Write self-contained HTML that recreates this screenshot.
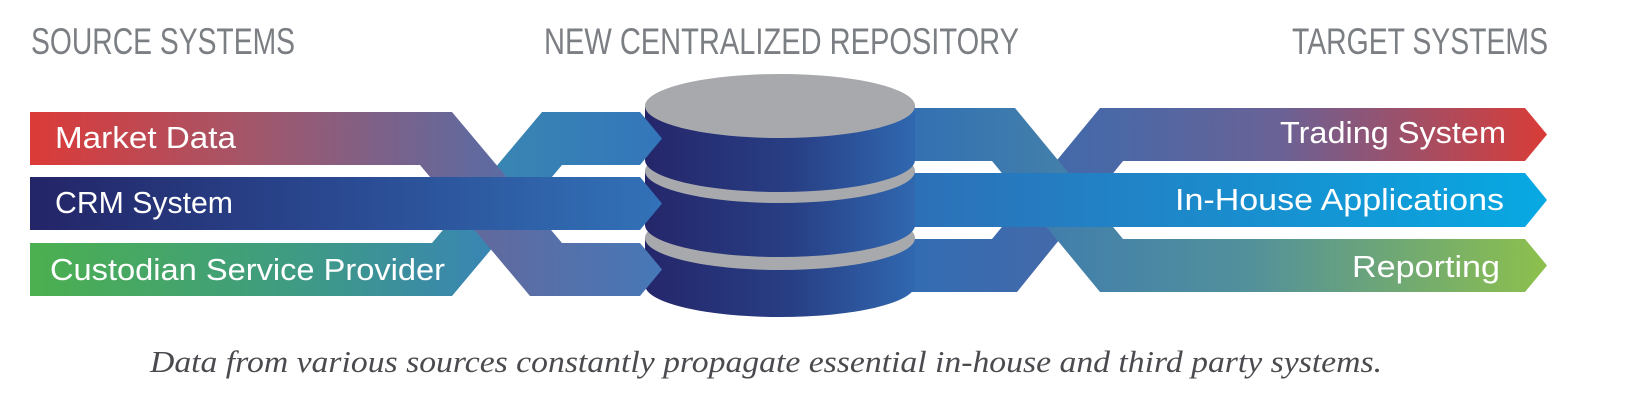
<!DOCTYPE html>
<html><head><meta charset="utf-8"><style>html,body{margin:0;padding:0;background:#fff}svg{display:block}</style></head>
<body>
<svg width="1626" height="402" viewBox="0 0 1626 402" xmlns="http://www.w3.org/2000/svg">
<defs>
<linearGradient id="gRed" gradientUnits="userSpaceOnUse" x1="30" y1="0" x2="662" y2="0">
<stop offset="0" stop-color="#dc3a38"/><stop offset="0.35" stop-color="#a3566a"/><stop offset="0.7" stop-color="#62699d"/><stop offset="1" stop-color="#4678b8"/></linearGradient>
<linearGradient id="gGreen" gradientUnits="userSpaceOnUse" x1="30" y1="0" x2="662" y2="0">
<stop offset="0" stop-color="#4cb04f"/><stop offset="0.4" stop-color="#3f9c80"/><stop offset="0.72" stop-color="#3986b2"/><stop offset="1" stop-color="#3376bb"/></linearGradient>
<linearGradient id="gCrm" gradientUnits="userSpaceOnUse" x1="30" y1="0" x2="662" y2="0">
<stop offset="0" stop-color="#232567"/><stop offset="0.5" stop-color="#2a4a92"/><stop offset="1" stop-color="#3272b8"/></linearGradient>
<linearGradient id="gRep" gradientUnits="userSpaceOnUse" x1="880" y1="0" x2="1547" y2="0">
<stop offset="0" stop-color="#2f6db5"/><stop offset="0.3" stop-color="#4481a9"/><stop offset="0.55" stop-color="#52909c"/><stop offset="1" stop-color="#8dc04c"/></linearGradient>
<linearGradient id="gTrd" gradientUnits="userSpaceOnUse" x1="880" y1="0" x2="1547" y2="0">
<stop offset="0" stop-color="#2f6db5"/><stop offset="0.35" stop-color="#4a68a6"/><stop offset="0.6" stop-color="#6a6296"/><stop offset="1" stop-color="#d93c37"/></linearGradient>
<linearGradient id="gMid" gradientUnits="userSpaceOnUse" x1="880" y1="0" x2="1547" y2="0">
<stop offset="0" stop-color="#2f6db5"/><stop offset="1" stop-color="#07a9e3"/></linearGradient>
<linearGradient id="gCyl" gradientUnits="userSpaceOnUse" x1="645" y1="0" x2="915" y2="0">
<stop offset="0" stop-color="#25266a"/><stop offset="0.55" stop-color="#283f85"/><stop offset="1" stop-color="#3068b0"/></linearGradient>
</defs>

<g font-family="Liberation Sans, sans-serif" fill="#7b7e83" font-size="37">
<text x="31" y="54" textLength="264" lengthAdjust="spacingAndGlyphs">SOURCE SYSTEMS</text>
<text x="544" y="54" textLength="475" lengthAdjust="spacingAndGlyphs">NEW CENTRALIZED REPOSITORY</text>
<text x="1292" y="54" textLength="256" lengthAdjust="spacingAndGlyphs">TARGET SYSTEMS</text>
</g>

<polygon fill="url(#gTrd)" points="880,239 992,239 1100,108 1525,108 1547,134.5 1525,161 1123,161 1017,292 880,292"/>
<polygon fill="url(#gRep)" points="880,108 1015,108 1123,239 1525,239 1547,265.5 1525,292 1100,292 992,161 880,161"/>
<polygon fill="url(#gMid)" points="880,173 1525,173 1547,200 1525,227 880,227"/>

<g>
<rect x="645" y="238" width="270" height="47" fill="url(#gCyl)"/>
<ellipse cx="780" cy="285" rx="135" ry="32" fill="url(#gCyl)"/>
<ellipse cx="780" cy="238" rx="135" ry="32" fill="#a7a9ac"/>
<rect x="645" y="171" width="270" height="54" fill="url(#gCyl)"/>
<ellipse cx="780" cy="225" rx="135" ry="32" fill="url(#gCyl)"/>
<ellipse cx="780" cy="171" rx="135" ry="32" fill="#a7a9ac"/>
<rect x="645" y="106" width="270" height="54" fill="url(#gCyl)"/>
<ellipse cx="780" cy="160" rx="135" ry="32" fill="url(#gCyl)"/>
<ellipse cx="780" cy="106" rx="135" ry="32" fill="#a7a9ac"/>
</g>

<polygon fill="url(#gGreen)" points="30,243 432,243 542,112 640,112 662,138.5 640,165 562,165 452,296 30,296"/>
<polygon fill="url(#gRed)" points="30,112 452,112 562,243 640,243 662,269.5 640,296 530,296 420,165 30,165"/>
<polygon fill="url(#gCrm)" points="30,177 640,177 662,203.5 640,230 30,230"/>

<g font-family="Liberation Sans, sans-serif" fill="#fff" font-size="31">
<text x="55" y="148" textLength="181" lengthAdjust="spacingAndGlyphs">Market Data</text>
<text x="55" y="213" textLength="178" lengthAdjust="spacingAndGlyphs">CRM System</text>
<text x="50" y="280" textLength="395" lengthAdjust="spacingAndGlyphs">Custodian Service Provider</text>
<text x="1280" y="143" textLength="226" lengthAdjust="spacingAndGlyphs">Trading System</text>
<text x="1175" y="210" textLength="329" lengthAdjust="spacingAndGlyphs">In-House Applications</text>
<text x="1352" y="277" textLength="148" lengthAdjust="spacingAndGlyphs">Reporting</text>
</g>

<text x="150" y="372" font-family="Liberation Serif, serif" font-style="italic" font-size="31" fill="#4a4a4f" textLength="1232" lengthAdjust="spacingAndGlyphs">Data from various sources constantly propagate essential in-house and third party systems.</text>
</svg>
</body></html>
